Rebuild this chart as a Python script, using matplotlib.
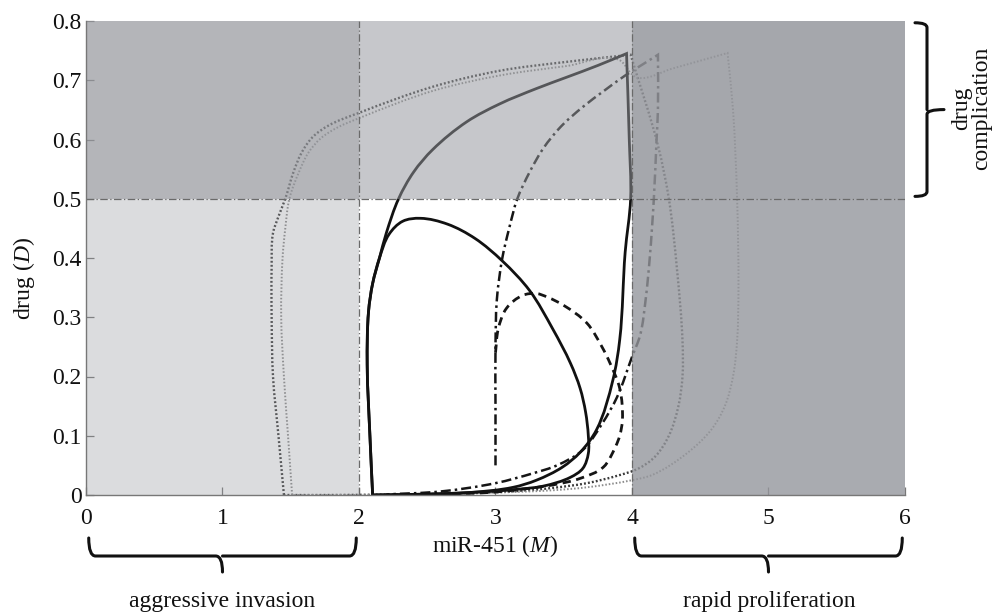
import numpy as np
import matplotlib
matplotlib.use("Agg")
import matplotlib.pyplot as plt
from matplotlib.patches import Rectangle, PathPatch
from matplotlib.path import Path
from matplotlib.transforms import blended_transform_factory

plt.rcParams['font.family'] = ['Liberation Serif', 'DejaVu Serif']
plt.rcParams['mathtext.fontset'] = 'custom'
plt.rcParams['mathtext.rm'] = 'Liberation Serif'
plt.rcParams['mathtext.it'] = 'Liberation Serif:italic'

# ---- phase-plane trajectories (miR-451 M, drug D) ----
solid_big_m = [2.10, 2.08, 2.06, 2.07, 2.10, 2.15, 2.20, 2.29, 2.40, 2.54, 2.79, 3.03,
               3.30, 3.52, 3.75, 3.96, 3.98, 3.99, 3.95, 3.91, 3.86, 3.74, 3.62,
               3.49, 3.30, 3.13, 2.80, 2.40, 2.10]
solid_big_d = [0.00, 0.10, 0.22, 0.31, 0.357, 0.40, 0.442, 0.50, 0.545, 0.583, 0.630, 0.660,
               0.686, 0.705, 0.725, 0.745, 0.60, 0.50, 0.41, 0.262, 0.194, 0.11, 0.072,
               0.047, 0.025, 0.013, 0.004, 0.001, 0.00]

solid_small_m = [2.10, 2.08, 2.06, 2.07, 2.10, 2.15, 2.22, 2.32, 2.45, 2.65, 2.85, 3.05,
                 3.25, 3.42, 3.55, 3.62, 3.66, 3.68, 3.68, 3.64, 3.55, 3.35, 3.18,
                 2.80, 2.40, 2.10]
solid_small_d = [0.00, 0.10, 0.22, 0.31, 0.357, 0.40, 0.44, 0.462, 0.467, 0.457, 0.433, 0.395,
                 0.345, 0.28, 0.222, 0.18, 0.14, 0.10, 0.07, 0.045, 0.03, 0.015, 0.01,
                 0.004, 0.001, 0.00]

dashed_m = [3.00, 3.02, 3.08, 3.20, 3.30, 3.38, 3.50, 3.67, 3.78, 3.84, 3.91, 3.93,
            3.91, 3.88, 3.79, 3.62, 3.42, 3.20, 3.00, 2.60]
dashed_d = [0.24, 0.28, 0.315, 0.337, 0.34, 0.334, 0.32, 0.29, 0.25, 0.222, 0.18, 0.127,
            0.10, 0.082, 0.047, 0.028, 0.017, 0.010, 0.005, 0.001]

dashdot_m = [3.00, 3.00, 3.00, 3.01, 3.05, 3.10, 3.16, 3.25, 3.35, 3.48, 3.64, 3.80,
             3.95, 4.08, 4.19, 4.19, 4.18, 4.16, 4.13, 4.10, 4.06, 4.00, 3.89, 3.78,
             3.64, 3.45, 3.28, 3.00, 2.60, 2.20]
dashdot_d = [0.05, 0.15, 0.25, 0.33, 0.40, 0.45, 0.50, 0.545, 0.585, 0.622, 0.655, 0.683,
             0.708, 0.727, 0.743, 0.65, 0.60, 0.50, 0.40, 0.33, 0.27, 0.233, 0.165, 0.12,
             0.076, 0.05, 0.037, 0.02, 0.006, 0.001]

dotted_inner_m = [1.45, 1.43, 1.41, 1.37, 1.36, 1.36, 1.37, 1.41, 1.46, 1.52, 1.58, 1.66,
                  1.78, 2.00, 2.54, 3.03, 3.52, 3.99, 4.19, 4.27, 4.33, 4.37, 4.37, 4.34,
                  4.27, 4.17, 4.05, 3.90, 3.67, 3.42, 3.18, 2.80, 2.30, 1.80, 1.45]
dotted_inner_d = [0.00, 0.05, 0.10, 0.20, 0.30, 0.385, 0.442, 0.47, 0.50, 0.545, 0.578, 0.604,
                  0.624, 0.645, 0.689, 0.716, 0.731, 0.743, 0.59, 0.50, 0.38, 0.26, 0.20, 0.15,
                  0.10, 0.065, 0.045, 0.033, 0.020, 0.012, 0.007, 0.003, 0.001, 0.0, 0.0]

dotted_outer_m = [1.51, 1.48, 1.45, 1.43, 1.44, 1.46, 1.49, 1.56, 1.63, 1.72, 1.84, 2.00,
                  2.54, 3.03, 3.52, 3.90, 4.00, 4.04, 4.30, 4.50, 4.70, 4.74, 4.77, 4.78,
                  4.77, 4.74, 4.68, 4.58, 4.40, 4.15, 4.00, 3.67, 3.42, 3.00, 2.50, 1.51]
dotted_outer_d = [0.00, 0.10, 0.20, 0.30, 0.40, 0.45, 0.50, 0.545, 0.578, 0.602, 0.62, 0.636,
                  0.682, 0.708, 0.724, 0.735, 0.71, 0.704, 0.72, 0.733, 0.746, 0.65, 0.50, 0.35,
                  0.26, 0.20, 0.15, 0.11, 0.07, 0.034, 0.025, 0.013, 0.008, 0.004, 0.001, 0.00]

# ---- regions of the phase plane ----
m_bounds = [0, 2, 4, 6]
d_bounds = [0, 0.5, 0.8]
# shade opacity per (row, column): row 0 is D < 0.5, row 1 is D > 0.5
shade_alpha = [[0.33, 0.0, 0.80],
               [0.70, 0.525, 0.84]]
shade_color = (0.58, 0.59, 0.61)

x_ticks = [0, 1, 2, 3, 4, 5, 6]
y_ticks = [0, 0.1, 0.2, 0.3, 0.4, 0.5, 0.6, 0.7, 0.8]
y_ticklabels = ['0', '0.1', '0.2', '0.3', '0.4', '0.5', '0.6', '0.7', '0.8']

FS = 17
W, H = 1000, 613
fig = plt.figure(figsize=(10, 6.13), dpi=100)
ax = fig.add_axes([86 / W, 1 - 495 / H, (905 - 86) / W, (495 - 21) / H])
ax.set_xlim(m_bounds[0], m_bounds[-1])
ax.set_ylim(d_bounds[0], d_bounds[-1])

# screen scale (pixels per data unit) so the curve smoothing is isotropic
SX = (905 - 86) / (m_bounds[-1] - m_bounds[0])
SY = (495 - 21) / (d_bounds[-1] - d_bounds[0])


def smooth_path(ms, ds, corner_deg=55):
    """Cubic Bezier path through the given points; sharp turns stay sharp."""
    p = np.column_stack([np.asarray(ms, float) * SX, np.asarray(ds, float) * SY])
    n = len(p)
    seg = np.diff(p, axis=0)
    seg_len = np.hypot(seg[:, 0], seg[:, 1])
    seg_len[seg_len == 0] = 1e-9
    seg_dir = seg / seg_len[:, None]
    tan = [None] * n
    for i in range(1, n - 1):
        din, dout = seg_dir[i - 1], seg_dir[i]
        ang = np.degrees(np.arccos(np.clip(np.dot(din, dout), -1, 1)))
        if ang > corner_deg:
            continue
        t = din + dout
        tan[i] = t / np.hypot(*t)
    verts = [p[0]]
    codes = [Path.MOVETO]
    for i in range(n - 1):
        L = seg_len[i] / 3.0
        t0 = tan[i] if tan[i] is not None else seg_dir[i]
        t1 = tan[i + 1] if tan[i + 1] is not None else seg_dir[i]
        verts += [p[i] + t0 * L, p[i + 1] - t1 * L, p[i + 1]]
        codes += [Path.CURVE4] * 3
    v = np.array(verts)
    v[:, 0] /= SX
    v[:, 1] /= SY
    return Path(v, codes)


def trajectory(ms, ds, **kw):
    ax.add_patch(PathPatch(smooth_path(ms, ds), facecolor='none', zorder=2, **kw))


trajectory(dotted_inner_m, dotted_inner_d, edgecolor='#3a3a3a', lw=1.7,
           linestyle=(0, (0.8, 0.9)))
trajectory(dotted_outer_m, dotted_outer_d, edgecolor='#8c8c8c', lw=1.4,
           linestyle=(0, (0.8, 1.0)))
trajectory(dashdot_m, dashdot_d, edgecolor='#151515', lw=1.8,
           linestyle=(0, (4, 1.6, 1, 1.6)))
trajectory(dashed_m, dashed_d, edgecolor='#151515', lw=2.0, linestyle=(0, (3, 2)))
trajectory(solid_small_m, solid_small_d, edgecolor='#111111', lw=2.0)
trajectory(solid_big_m, solid_big_d, edgecolor='#111111', lw=2.0)

# translucent shading over the regions
for r in range(2):
    for c in range(3):
        a = shade_alpha[r][c]
        if a <= 0:
            continue
        ax.add_patch(Rectangle((m_bounds[c], d_bounds[r]),
                               m_bounds[c + 1] - m_bounds[c],
                               d_bounds[r + 1] - d_bounds[r],
                               facecolor=shade_color, alpha=a, lw=0, zorder=3))

# region boundaries
for xv in m_bounds[1:3]:
    ax.axvline(xv, color='#6a6a6a', lw=0.9, linestyle=(0, (6, 2, 1, 2)), zorder=4)
ax.axhline(d_bounds[1], color='#6a6a6a', lw=0.9, linestyle=(0, (6, 2, 1, 2)), zorder=4)

ax.set_xticks(x_ticks)
ax.set_xticklabels([str(t) for t in x_ticks])
ax.set_yticks(y_ticks)
ax.set_yticklabels(y_ticklabels)
ax.tick_params(axis='both', direction='in', length=6, width=0.9, color='#777777',
               labelsize=FS, labelcolor='#111111')
ax.tick_params(axis='x', pad=9)
ax.tick_params(axis='y', pad=3)
for s in ['top', 'right']:
    ax.spines[s].set_visible(False)
for s in ['left', 'bottom']:
    ax.spines[s].set_color('#777777')
    ax.spines[s].set_linewidth(1.0)
    ax.spines[s].set_zorder(5)

# axis labels
fig.text(495 / W, 1 - 546 / H, 'miR-451 ($M$)', ha='center', va='center',
         fontsize=FS, color='#111111')
fig.text(24 / W, 1 - 278 / H, 'drug ($D$)', ha='center', va='center',
         rotation=90, fontsize=FS, color='#111111')

# curly braces grouping the regions
brace_kw = dict(facecolor='none', edgecolor='#111111', lw=2.2, clip_on=False,
                capstyle='round', joinstyle='round')


def hbrace(x0, x1, y_end, y_base, y_tip, r=0.05):
    tr = blended_transform_factory(ax.transData, fig.transFigure)
    xm = 0.5 * (x0 + x1)
    verts = [(x0, y_end), (x0, y_base), (x0 + r, y_base),
             (xm - r, y_base), (xm, y_base), (xm, y_tip),
             (xm, y_base), (xm + r, y_base),
             (x1 - r, y_base), (x1, y_base), (x1, y_end)]
    codes = [Path.MOVETO, Path.CURVE3, Path.CURVE3,
             Path.LINETO, Path.CURVE3, Path.CURVE3,
             Path.MOVETO, Path.LINETO,
             Path.LINETO, Path.CURVE3, Path.CURVE3]
    ax.add_patch(PathPatch(Path(verts, codes), transform=tr, **brace_kw))


def vbrace(y0, y1, x_end, x_base, x_tip, r=0.008):
    tr = blended_transform_factory(fig.transFigure, ax.transData)
    ym = 0.5 * (y0 + y1)
    verts = [(x_end, y0), (x_base, y0), (x_base, y0 + r),
             (x_base, ym - r), (x_base, ym), (x_tip, ym),
             (x_base, ym), (x_base, ym + r),
             (x_base, y1 - r), (x_base, y1), (x_end, y1)]
    codes = [Path.MOVETO, Path.CURVE3, Path.CURVE3,
             Path.LINETO, Path.CURVE3, Path.CURVE3,
             Path.MOVETO, Path.LINETO,
             Path.LINETO, Path.CURVE3, Path.CURVE3]
    ax.add_patch(PathPatch(Path(verts, codes), transform=tr, **brace_kw))


hbrace(0.02, 1.98, 1 - 538 / H, 1 - 556 / H, 1 - 572 / H)
hbrace(4.02, 5.98, 1 - 538 / H, 1 - 556 / H, 1 - 572 / H)
vbrace(0.504, 0.797, 915 / W, 927 / W, 944 / W)

fig.text(222 / W, 1 - 602 / H, 'aggressive invasion', ha='center', va='center',
         fontsize=FS, color='#111111')
fig.text(769 / W, 1 - 602 / H, 'rapid proliferation', ha='center', va='center',
         fontsize=FS, color='#111111')
fig.text(972 / W, 1 - 108 / H, 'drug\ncomplication', ha='center', va='center',
         rotation=90, fontsize=FS, linespacing=0.95, multialignment='center',
         color='#111111')

fig.savefig('out.png', dpi=100)
